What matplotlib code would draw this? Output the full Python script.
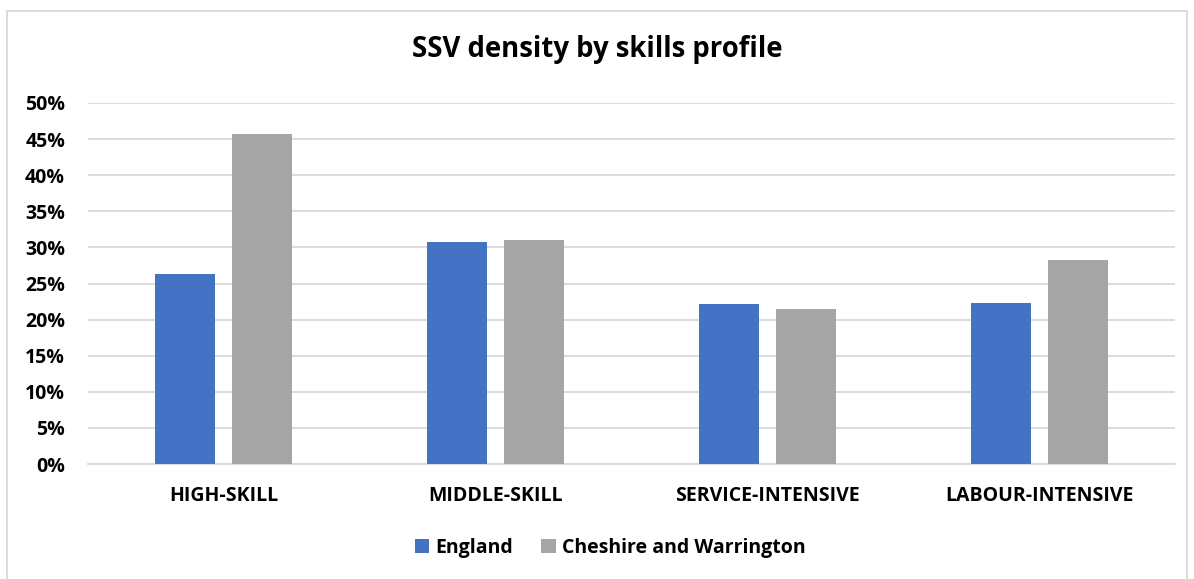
import matplotlib
matplotlib.use("Agg")
import matplotlib.pyplot as plt
from matplotlib.patches import Rectangle
from matplotlib.ticker import MultipleLocator, FuncFormatter
import numpy as np

categories = ["HIGH-SKILL", "MIDDLE-SKILL", "SERVICE-INTENSIVE", "LABOUR-INTENSIVE"]
england = [0.263, 0.307, 0.221, 0.223]
cheshire = [0.457, 0.310, 0.215, 0.282]
series_names = ["England", "Cheshire and Warrington"]
colors = ["#4472C4", "#A5A5A5"]

plt.rcParams["font.family"] = ["Open Sans", "DejaVu Sans"]
plt.rcParams["font.weight"] = "bold"

fig = plt.figure(figsize=(11.94, 5.79), dpi=100)
fig.patch.set_facecolor("white")
# outer chart border
fig.add_artist(Rectangle((7 / 1194, -0.01), 1180 / 1194, 1 - 11 / 579 + 0.01,
                         transform=fig.transFigure, fill=False,
                         edgecolor="#d9d9d9", linewidth=1.3))

ax = fig.add_axes([88 / 1194, 1 - 464 / 579, (1175 - 88) / 1194, (464 - 103) / 579])

x = np.arange(len(categories))
width = 0.221
offset = (width + 0.0625) / 2
ax.bar(x - offset, england, width, color=colors[0], label=series_names[0], zorder=3)
ax.bar(x + offset, cheshire, width, color=colors[1], label=series_names[1], zorder=3)

ax.set_xlim(-0.5, len(categories) - 0.5)
ax.set_ylim(0, 0.5)
ax.yaxis.set_major_locator(MultipleLocator(0.05))
ax.yaxis.set_major_formatter(FuncFormatter(lambda v, _: f"{v * 100:.0f}%"))
ax.grid(axis="y", color="#d9d9d9", linewidth=1.3, zorder=0)
ax.set_xticks(x)
ax.set_xticklabels(categories)
for s in ["top", "right", "left"]:
    ax.spines[s].set_visible(False)
ax.spines["bottom"].set_color("#d9d9d9")
ax.spines["bottom"].set_linewidth(1.3)
ax.tick_params(axis="both", length=0, labelsize=14, colors="black")
ax.tick_params(axis="y", pad=16.5)
ax.tick_params(axis="x", pad=15.5)
for lbl in ax.get_xticklabels() + ax.get_yticklabels():
    lbl.set_fontweight("bold")

fig.text(0.5, 1 - 50 / 579, "SSV density by skills profile", ha="center", va="center",
         fontsize=19.8, fontweight="bold")

leg = fig.legend(loc="center", bbox_to_anchor=(610 / 1194, 1 - 548 / 579), ncol=2,
                 frameon=False, fontsize=14, handlelength=0.75, handleheight=0.75,
                 handletextpad=0.3, columnspacing=1.45)
for t in leg.get_texts():
    t.set_fontweight("bold")

fig.savefig("out.png", dpi=100, facecolor="white")
